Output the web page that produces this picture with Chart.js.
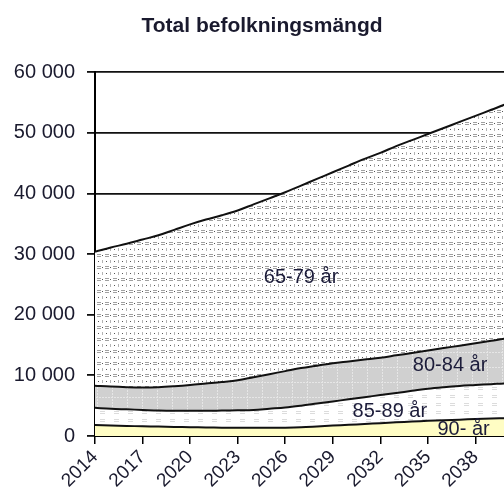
<!DOCTYPE html>
<html>
<head>
<meta charset="utf-8">
<script src="https://cdn.jsdelivr.net/npm/chart.js@4"></script>
<style>
  html, body { margin: 0; padding: 0; background: #fff; overflow: hidden; }
  #wrap { width: 504px; height: 490px; }
</style>
</head>
<body>
<div id="wrap"><canvas id="chart" width="504" height="490"></canvas></div>
<script>
// data, one value per year
const years = [2014,2015,2016,2017,2018,2019,2020,2021,2022,2023,2024,2025,2026,2027,2028,2029,2030,2031,2032,2033,2034,2035,2036,2037,2038,2039,2040,2041];
const tickYears = [2014,2017,2020,2023,2026,2029,2032,2035,2038];
const yTicks = [0,10000,20000,30000,40000,50000,60000];

const age90 = [1800,1730,1660,1600,1550,1500,1450,1420,1380,1350,1350,1350,1380,1450,1580,1720,1850,1980,2120,2250,2380,2500,2600,2700,2800,2880,2950,3000];
const age85 = [2850,2770,2740,2700,2650,2650,2700,2730,2820,2900,2950,3150,3320,3550,3770,3980,4200,4420,4630,4850,5070,5300,5450,5550,5600,5670,5750,5800];
const age80 = [3650,3650,3650,3700,3850,4050,4250,4500,4700,4950,5400,5700,6000,6200,6250,6300,6250,6200,6150,6200,6250,6300,6450,6650,6900,7150,7400,7600];
const age65 = [22100,22950,23650,24400,25050,25800,26500,27050,27500,28000,28500,29000,29500,30100,30800,31500,32300,33100,33800,34500,35100,35700,36300,36900,37500,38100,38700,39300];

const seriesNames = ['90- år','85-89 år','80-84 år','65-79 år'];
// where each name is written inside its band (year, value)
const labelAt = [[2037.25,1100],[2032.6,4000],[2036.4,11700],[2027,26200]];

const FONT = '"Liberation Sans", Arial, sans-serif';

function makePattern(w, h, draw){
  const c = document.createElement('canvas');
  c.width = w; c.height = h;
  const g = c.getContext('2d');
  draw(g);
  return document.getElementById('chart').getContext('2d').createPattern(c, 'repeat');
}

// 90-: plain light yellow
const fill90 = '#FFFDC4';
// 85-89: white with faint dashes
const fill85 = makePattern(14, 8, g=>{
  g.fillStyle = '#fff'; g.fillRect(0,0,14,8);
  g.fillStyle = '#dcdcdc'; g.fillRect(2,3,5,1); g.fillRect(2,5,5,1);
});
// 80-84: grey with light grid
const fill80 = makePattern(15, 15, g=>{
  g.fillStyle = '#d0d0d0'; g.fillRect(0,0,15,15);
  g.fillStyle = '#e6e6e6';
  for(let i=0;i<15;i+=3){ g.fillRect(7,i,1,2); g.fillRect(i,7,2,1); }
});
// 65-79: white with small dashes and dots
const fill65 = makePattern(8, 12, g=>{
  g.fillStyle = '#fff'; g.fillRect(0,0,8,12);
  g.fillStyle = '#a0a0a0'; g.fillRect(1,2,4,1); g.fillRect(1,4,4,1);
  g.fillStyle = '#b4b4b4'; g.fillRect(6,8,1,3);
  g.fillStyle = '#555'; g.fillRect(2,9,1,1); g.fillRect(6,3,1,1);
});

const fills = [fill90, fill85, fill80, fill65];
const groups = [age90, age85, age80, age65];

const datasets = groups.map((vals, i) => ({
  label: seriesNames[i],
  data: vals.map((v, j) => ({x: years[j], y: v})),
  backgroundColor: fills[i],
  borderColor: '#111',
  borderWidth: 2,
  pointRadius: 0,
  tension: 0.35,
  fill: i === 0 ? 'origin' : '-1'
}));

const bandLabels = {
  id: 'bandLabels',
  afterDatasetsDraw(chart){
    const {ctx, scales:{x, y}} = chart;
    ctx.save();
    ctx.font = '20px ' + FONT;
    ctx.fillStyle = '#1c1c3a';
    ctx.textAlign = 'center';
    ctx.textBaseline = 'middle';
    labelAt.forEach((p, i) => {
      ctx.fillText(seriesNames[i], x.getPixelForValue(p[0]), y.getPixelForValue(p[1]));
    });
    ctx.restore();
  }
};

new Chart(document.getElementById('chart'), {
  type: 'line',
  data: { datasets },
  plugins: [bandLabels],
  options: {
    responsive: false,
    animation: false,
    // the plot runs on past the right edge of the picture
    layout: { padding: { top: 0, left: 0, bottom: 0, right: -20 } },
    plugins: {
      legend: { display: false },
      tooltip: { enabled: false },
      title: {
        display: true,
        text: 'Total befolkningsmängd',
        color: '#1a1a2e',
        font: { family: FONT, size: 21, weight: 'bold' },
        padding: { top: 14, bottom: 33 }
      }
    },
    scales: {
      x: {
        type: 'linear',
        min: 2014,
        max: 2039.8,
        afterBuildTicks: s => { s.ticks = tickYears.map(v => ({value: v})); },
        afterFit: s => { s.height = 54; },
        grid: { drawOnChartArea: false, drawTicks: true, tickLength: 8, color: '#000', lineWidth: 1.5 },
        border: { display: true, color: '#000', width: 2 },
        ticks: {
          minRotation: 45, maxRotation: 45, padding: 2,
          color: '#1a1a2e',
          font: { family: FONT, size: 19 },
          callback: v => String(v)
        }
      },
      y: {
        stacked: true,
        min: 0, max: 60000,
        afterBuildTicks: s => { s.ticks = yTicks.map(v => ({value: v})); },
        afterFit: s => { s.width = 95; },
        grid: { color: '#111', lineWidth: 1.8, tickLength: 8 },
        border: { display: true, color: '#000', width: 2 },
        ticks: {
          padding: 12,
          color: '#1a1a2e',
          font: { family: FONT, size: 20 },
          callback: v => String(v).replace(/\B(?=(\d{3})+(?!\d))/g, ' ')
        }
      }
    }
  }
});
</script>
</body>
</html>
